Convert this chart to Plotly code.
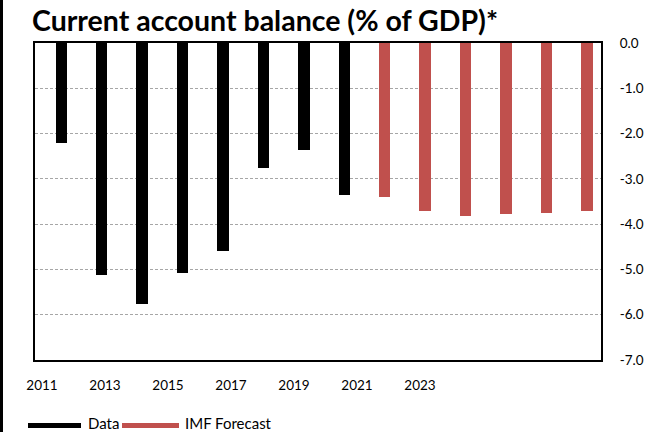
import plotly.graph_objects as go

years = list(range(2011, 2025))
values = [-2.21, -5.13, -5.77, -5.07, -4.59, -2.77, -2.37, -3.35,
          -3.39, -3.71, -3.82, -3.77, -3.75, -3.71]
kind = ["Data"] * 8 + ["IMF Forecast"] * 6
colors_map = {"Data": "#000000", "IMF Forecast": "#C0504D"}

x_tick_labels = ["2011", "2013", "2015", "2017", "2019", "2021", "2023"]
y_ticks = [0, -1, -2, -3, -4, -5, -6, -7]
y_tick_labels = ["0.0", "-1.0", "-2.0", "-3.0", "-4.0", "-5.0", "-6.0", "-7.0"]

W, H = 671, 432
L, R, T, B = 35, 70, 43, 72
pw, ph = W - L - R, H - T - B

fig = go.Figure()
fig.add_trace(go.Bar(
    x=years, y=values,
    marker=dict(color=[colors_map[k] for k in kind], line=dict(width=0)),
    width=0.285, showlegend=False, hoverinfo="x+y",
))
# invisible trace to drive the label axis
fig.add_trace(go.Scatter(x=[int(v) for v in x_tick_labels], y=[None] * len(x_tick_labels),
                         xaxis="x2", showlegend=False, hoverinfo="skip"))

fig.update_layout(
    width=W, height=H,
    margin=dict(l=L, r=R, t=T, b=B, autoexpand=False),
    paper_bgcolor="white", plot_bgcolor="white",
    font=dict(family="Lato", color="#000000"),
    xaxis=dict(range=[2010.35, 2024.35], showticklabels=False, ticks="",
               showgrid=False, zeroline=False, automargin=False,
               showline=True, mirror=True, linecolor="#000000", linewidth=2),
    xaxis2=dict(overlaying="x", side="bottom", anchor="y",
                range=[2010.778, 2028.746], automargin=False,
                tickvals=[int(v) for v in x_tick_labels], ticktext=x_tick_labels,
                ticks="", ticklabelstandoff=15, showgrid=False, zeroline=False,
                showline=False, tickfont=dict(size=13.5, family="Lato", color="#000000")),
    yaxis=dict(range=[-7, 0], side="right", tickvals=y_ticks, ticktext=y_tick_labels,
               ticks="", ticklabelstandoff=14, automargin=False,
               showgrid=True, gridcolor="#a6a6a6", gridwidth=1, griddash="3px,2px",
               zeroline=False,
               showline=True, mirror=True, linecolor="#000000", linewidth=2,
               tickfont=dict(size=13.5, family="Lato", color="#000000")),
    bargap=0,
)

def px_x(px):
    return (px - L) / pw

def px_y(py):
    return (H - B - py) / ph

# title
fig.add_annotation(text="<b>Current account balance (% of GDP)*</b>",
                   xref="paper", yref="paper", x=px_x(30), y=px_y(20),
                   xanchor="left", yanchor="middle", showarrow=False,
                   font=dict(size=28.5, family="Lato", color="#000000"))

# left black strip
fig.add_shape(type="rect", xref="paper", yref="paper",
              x0=px_x(0), x1=px_x(3), y0=px_y(H), y1=px_y(0),
              fillcolor="#000000", line=dict(width=0), layer="above")

# legend (manual)
leg_y = px_y(425.5)
for (x0, x1, tx, label) in [(28, 81, 88, "Data"), (122, 179, 185, "IMF Forecast")]:
    fig.add_shape(type="line", xref="paper", yref="paper",
                  x0=px_x(x0), x1=px_x(x1), y0=leg_y, y1=leg_y,
                  line=dict(color=colors_map[label], width=5))
    fig.add_annotation(text=label, xref="paper", yref="paper",
                       x=px_x(tx - 2), y=px_y(423), xanchor="left", yanchor="middle",
                       showarrow=False, font=dict(size=15, family="Lato", color="#000000"))

fig.write_html("out.html", config={"displayModeBar": False},
               post_script="document.body.style.margin='0';document.body.style.padding='0';")
